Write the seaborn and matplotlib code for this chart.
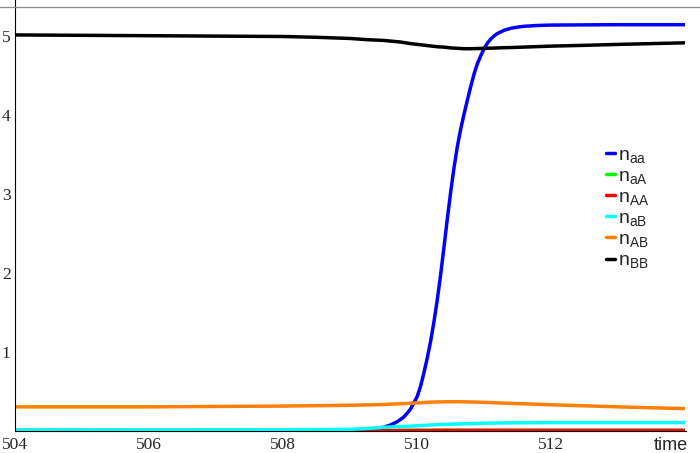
import numpy as np
import pandas as pd
import seaborn as sns
import matplotlib.pyplot as plt
from matplotlib.lines import Line2D
from matplotlib.transforms import blended_transform_factory

# n_aa has its own, denser time points (the switch around t = 510.5)
t_aa = [504, 508, 509, 509.25, 509.5, 509.6, 509.7, 509.8, 509.9, 510, 510.05,
        510.1, 510.15, 510.2, 510.25, 510.3, 510.35, 510.4, 510.45, 510.5, 510.55,
        510.6, 510.65, 510.7, 510.75, 510.8, 510.85, 510.9, 510.95, 511, 511.05,
        511.1, 511.15, 511.2, 511.3, 511.4, 511.5, 511.6, 511.8, 512, 513, 514]
n_aa = [0.0, 0.0, 0.005, 0.015, 0.04, 0.07, 0.11, 0.17, 0.27, 0.43, 0.56,
        0.73, 0.92, 1.13, 1.38, 1.66, 1.98, 2.33, 2.69, 3.03, 3.34,
        3.61, 3.83, 4.02, 4.20, 4.37, 4.53, 4.66, 4.76, 4.85, 4.92,
        4.97, 5.01, 5.04, 5.08, 5.105, 5.12, 5.13, 5.14, 5.145, 5.15, 5.15]

# time points shared by the other species
time = [504, 505, 506, 507, 508, 508.5, 509, 509.25, 509.5, 509.75, 509.9,
        510, 510.1, 510.2, 510.3, 510.4, 510.5, 510.6, 510.7, 510.8, 510.9,
        511, 511.1, 511.2, 511.3, 511.4, 511.6, 511.8, 512, 512.5, 513, 513.5, 514]

n_aA = [0.0, 0.0, 0.0, 0.0, 0.0, 0.0, 0.0, 0.0, 0.0, 0.001, 0.001,
        0.002, 0.002, 0.002, 0.003, 0.003, 0.003, 0.003, 0.003, 0.003, 0.003,
        0.003, 0.003, 0.003, 0.003, 0.003, 0.003, 0.003, 0.003, 0.003, 0.003, 0.003, 0.003]

n_AA = [0.0, 0.0, 0.0, 0.0, 0.0, 0.0, 0.0, 0.0, 0.0, 0.0, 0.0,
        0.001, 0.001, 0.001, 0.002, 0.002, 0.002, 0.002, 0.002, 0.002, 0.002,
        0.002, 0.002, 0.002, 0.002, 0.002, 0.002, 0.002, 0.002, 0.002, 0.002, 0.002, 0.002]

n_aB = [0.005, 0.006, 0.007, 0.008, 0.01, 0.012, 0.015, 0.025, 0.04, 0.05, 0.055,
        0.06, 0.065, 0.07, 0.074, 0.078, 0.08, 0.083, 0.086, 0.088, 0.09,
        0.092, 0.094, 0.095, 0.096, 0.097, 0.098, 0.099, 0.1, 0.1, 0.1, 0.1, 0.1]

n_AB = [0.30, 0.30, 0.30, 0.305, 0.31, 0.315, 0.32, 0.325, 0.33, 0.34, 0.345,
        0.35, 0.355, 0.36, 0.362, 0.364, 0.365, 0.365, 0.364, 0.362, 0.36,
        0.357, 0.354, 0.35, 0.347, 0.344, 0.338, 0.332, 0.326, 0.313, 0.30, 0.288, 0.278]

n_BB = [5.02, 5.015, 5.01, 5.005, 5.0, 4.99, 4.975, 4.96, 4.95, 4.93, 4.91,
        4.90, 4.89, 4.88, 4.87, 4.865, 4.855, 4.85, 4.845, 4.845, 4.847,
        4.85, 4.852, 4.855, 4.858, 4.86, 4.866, 4.872, 4.878, 4.888, 4.90, 4.91, 4.92]

names = ['aa', 'aA', 'AA', 'aB', 'AB', 'BB']
colors = ['#0000ff', '#00ff00', '#ff0000', '#00ffff', '#ff8000', '#000000']

series = [(t_aa, n_aa), (time, n_aA), (time, n_AA),
          (time, n_aB), (time, n_AB), (time, n_BB)]
df = pd.concat([pd.DataFrame({'time': t, 'n': s, 'kind': k})
                for k, (t, s) in zip(names, series)], ignore_index=True)

sns.set_style('white')
plt.rcParams['font.family'] = ['Liberation Serif', 'DejaVu Serif']
plt.rcParams['mathtext.default'] = 'regular'

fig = plt.figure(figsize=(7, 4.53), dpi=100)
ax = fig.add_axes([14.7 / 700, 22.5 / 453, 670.8 / 700, 430.5 / 453])

sns.lineplot(data=df, x='time', y='n', hue='kind', hue_order=names,
             palette=dict(zip(names, colors)), linewidth=2.5, ax=ax,
             sort=False, estimator=None)

ax.set_xlim(504, 514)
ax.set_ylim(0, 430.5 / 78.8)
ax.set_xlabel('')
ax.set_ylabel('')

ax.set_xticks([504, 506, 508, 510, 512])
ax.set_xticks(np.arange(504, 514.01, 0.5), minor=True)
ax.set_yticks([1, 2, 3, 4, 5])
ax.set_yticks(np.arange(0, 5.41, 0.2), minor=True)
ax.tick_params(which='both', direction='in', color='black', width=0.8,
               labelsize=12.5)
ax.tick_params(which='major', length=3.5)
ax.tick_params(which='minor', length=2)
ax.tick_params(axis='x', pad=5)
ax.tick_params(axis='y', pad=3)

sns.despine(ax=ax)
for sp in ['left', 'bottom']:
    ax.spines[sp].set_color('black')
    ax.spines[sp].set_linewidth(0.8)

# thin grey line across the top (plot range edge)
tr = blended_transform_factory(fig.transFigure, ax.transData)
fig.add_artist(Line2D([0, 1], [5.37, 5.37], transform=tr, color='#8c8c8c', lw=0.9))

ax.annotate('time', xy=(1, 0), xycoords='axes fraction', xytext=(2, -5),
            textcoords='offset points', ha='right', va='top',
            family='Liberation Sans', fontsize=13)

handles = ax.get_legend().legend_handles
labels = [r'$n_{%s}$' % k for k in names]
ax.legend(handles, labels, frameon=False, loc='upper left',
          bbox_to_anchor=(606 / 700, 1 - 146 / 453), bbox_transform=fig.transFigure,
          borderpad=0, borderaxespad=0, handlelength=0.45, handletextpad=0.15,
          labelspacing=0.13, prop={'family': 'Liberation Sans', 'size': 14})

fig.savefig('out.png', dpi=100)
